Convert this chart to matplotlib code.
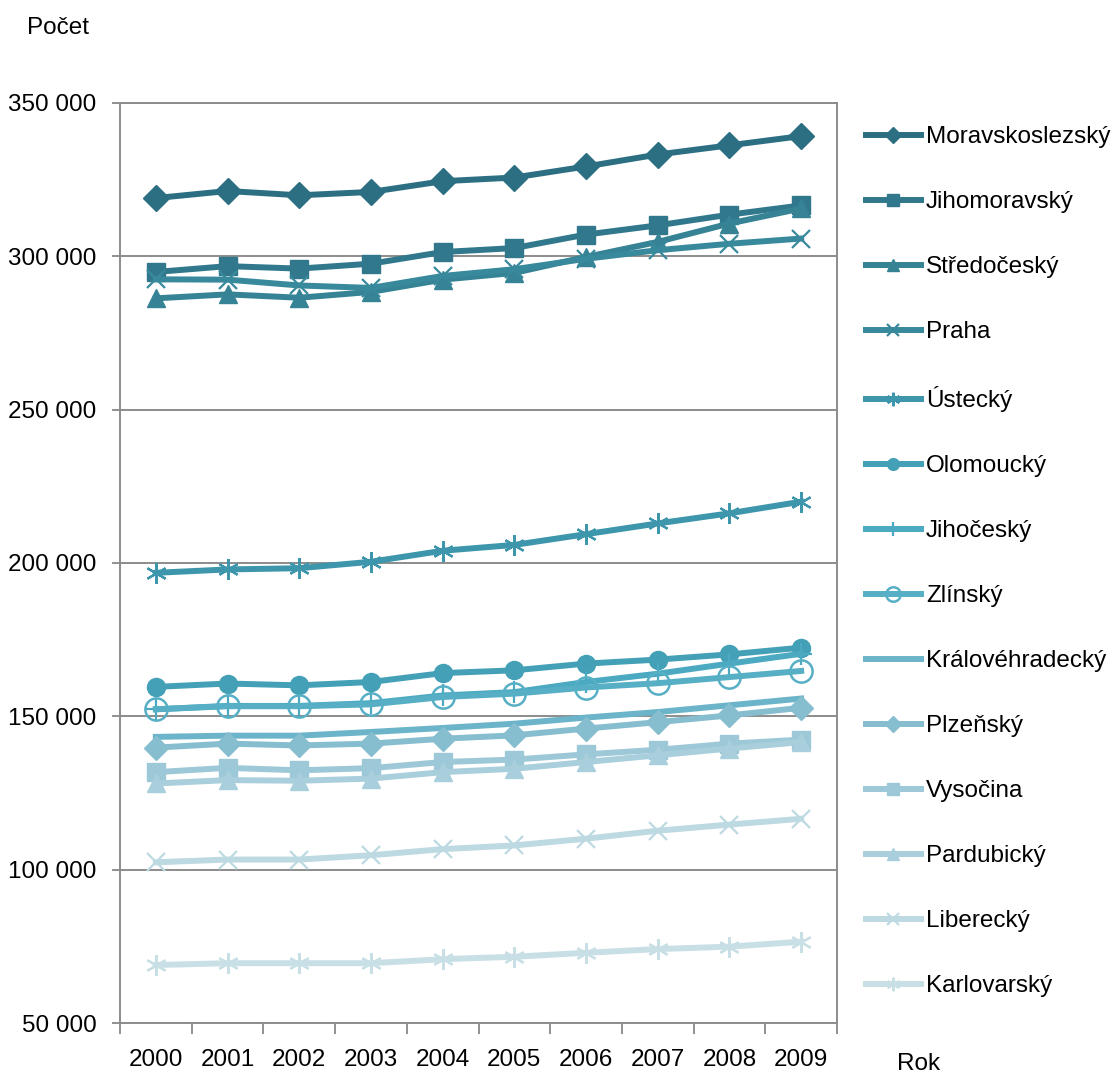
import matplotlib
matplotlib.use("Agg")
import matplotlib.pyplot as plt
from matplotlib.ticker import FuncFormatter, FixedLocator

plt.rcParams['font.family'] = ['Liberation Sans', 'DejaVu Sans']

years = ['2000', '2001', '2002', '2003', '2004', '2005', '2006', '2007', '2008', '2009']

regions = ['Moravskoslezský', 'Jihomoravský', 'Středočeský', 'Praha', 'Ústecký',
           'Olomoucký', 'Jihočeský', 'Zlínský', 'Královéhradecký', 'Plzeňský',
           'Vysočina', 'Pardubický', 'Liberecký', 'Karlovarský']

moravskoslezsky = [319000, 321300, 319900, 321000, 324500, 325700, 329300, 333200, 336200, 339200]
jihomoravsky    = [294900, 296800, 296000, 297600, 301400, 302700, 307100, 310100, 313600, 316600]
stredocesky     = [286300, 287600, 286500, 288400, 292400, 294600, 299800, 304700, 310700, 315600]
praha           = [292500, 292400, 290500, 289700, 293600, 295800, 299200, 302000, 304100, 305800]
ustecky         = [196800, 197900, 198300, 200400, 204000, 205900, 209400, 212900, 216200, 220000]
olomoucky       = [159600, 160700, 160100, 161200, 164100, 165000, 167200, 168500, 170200, 172400]
jihocesky       = [152300, 153400, 153400, 154300, 156800, 157900, 161200, 163900, 167200, 170400]
zlinsky         = [152300, 153300, 153300, 153900, 156300, 157400, 159400, 160800, 162800, 164800]
kralovehradecky = [143300, 143700, 143700, 144900, 146200, 147600, 149600, 151400, 153600, 155800]
plzensky        = [139800, 141100, 140500, 141100, 142700, 143800, 146000, 148100, 150300, 152800]
vysocina        = [131800, 133200, 132400, 133100, 135100, 135900, 137600, 139100, 141100, 142400]
pardubicky      = [128100, 129200, 129000, 129700, 131800, 132900, 135100, 137300, 139500, 141600]
liberecky       = [102400, 103300, 103300, 104700, 106700, 107900, 110100, 112700, 114700, 116600]
karlovarsky     = [68900, 69500, 69500, 69500, 70800, 71600, 72900, 74100, 74900, 76500]

series = [moravskoslezsky, jihomoravsky, stredocesky, praha, ustecky, olomoucky,
          jihocesky, zlinsky, kralovehradecky, plzensky, vysocina, pardubicky,
          liberecky, karlovarsky]

colors = ['#2D6F82', '#31788C', '#358395', '#38899C', '#3D96AB', '#43A0B6',
          '#4BAAC1', '#56AFC5', '#6BB4C9', '#86BDCF', '#9DC8D7', '#A9CFDC',
          '#BDD9E2', '#C9DFE6']

star = (6, 2, 0)
styles = [
    dict(marker='D', ms=13),
    dict(marker='s', ms=13),
    dict(marker='^', ms=13),
    dict(marker='x', ms=13, mew=1.6),
    dict(marker=star, ms=15, mew=1.6),
    dict(marker='o', ms=13),
    dict(marker='+', ms=16, mew=1.6),
    dict(marker='o', ms=16, mfc='none', mew=1.8),
    dict(marker=None),
    dict(marker='D', ms=12),
    dict(marker='s', ms=13),
    dict(marker='^', ms=13),
    dict(marker='x', ms=13, mew=1.6),
    dict(marker=star, ms=15, mew=1.6),
]

fig = plt.figure(figsize=(11.14, 10.77), dpi=100)
ax = fig.add_axes([120/1114, 1-1023/1077, (837-120)/1114, (1023-103)/1077])

x = list(range(len(years)))
for name, vals, c, st in zip(regions, series, colors, styles):
    kw = dict(st)
    kw.setdefault('mfc', c)
    ax.plot(x, vals, color=c, lw=4.3, label=name, mec=c, **kw)

ax.set_xlim(-0.5, 9.5)
ax.set_ylim(50000, 350000)
ax.set_yticks(range(50000, 350001, 50000))
ax.yaxis.set_major_formatter(FuncFormatter(lambda v, p: f"{int(v):,}".replace(",", " ")))
ax.set_xticks(x)
ax.set_xticklabels(years)
ax.xaxis.set_minor_locator(FixedLocator([i - 0.5 for i in range(11)]))
ax.tick_params(axis='x', which='major', length=0, pad=19, labelsize=17.5)
ax.tick_params(axis='x', which='minor', length=8, width=1.3, color='#888888', direction='out')
ax.tick_params(axis='y', which='major', length=6, width=1.3, color='#888888', labelsize=17.5, pad=11)

ax.grid(axis='y', color='#8C8C8C', lw=1.4)
ax.set_axisbelow(True)
for s in ax.spines.values():
    s.set_color('#8C8C8C')
    s.set_linewidth(1.4)

fig.text(27/1114, 1-28/1077, 'Počet', fontsize=17.5, va='center', ha='left')
fig.text(897/1114, 1-1064/1077, 'Rok', fontsize=17.5, va='center', ha='left')

leg = fig.legend(loc='upper left', bbox_to_anchor=(866/1114, 1-126/1077),
                 frameon=False, fontsize=17.5, handlelength=2.25, handletextpad=0.22,
                 labelspacing=1.77, markerscale=0.65, borderaxespad=0, borderpad=0)

fig.savefig('out.png', dpi=100)
